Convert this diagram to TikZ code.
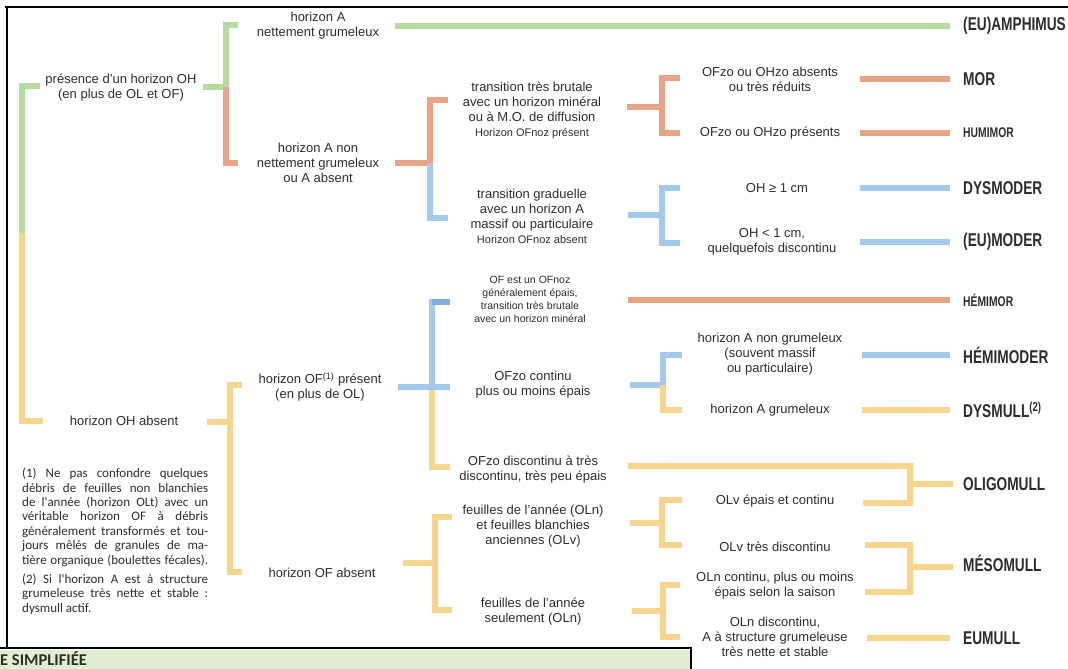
\documentclass[tikz,border=0pt]{standalone}
\usepackage{fontspec}
\setmainfont{Liberation Sans}
\newfontfamily\resfont{Liberation Sans}[FakeStretch=0.74]
\newfontfamily\notefont{Carlito}
\usepackage{xcolor}

\definecolor{humgreen}{RGB}{181,219,163}
\definecolor{humsalmon}{RGB}{233,163,133}
\definecolor{humblue}{RGB}{163,202,236}
\definecolor{humdarkblue}{RGB}{128,176,224}
\definecolor{humyellow}{RGB}{245,214,140}
\definecolor{humtext}{RGB}{45,45,45}
\definecolor{barfill}{RGB}{224,238,210}

% stem first, then the two halves of the bracket
\newcommand{\drawbracket}[4]{
    \draw[#4] (#1s) -- (#1m);
    \draw[#2] (#1t) -- (#1a) -- (#1m);
    \draw[#3] (#1m) -- (#1b) -- (#1u);
}

\tikzset{
    branch/.style={line width=6pt},
    greenline/.style={branch, draw=humgreen},
    salmonline/.style={branch, draw=humsalmon},
    blueline/.style={branch, draw=humblue},
    yellowline/.style={branch, draw=humyellow},
    crit/.style={align=center, inner sep=0pt, text=humtext, font=\fontsize{13}{15}\selectfont},
    critsmall/.style={crit, font=\fontsize{10.5}{13}\selectfont},
    humus/.style={anchor=west, inner sep=0pt, text=humtext, font=\resfont\bfseries\fontsize{18.5}{20}\selectfont},
    humussmall/.style={humus, font=\resfont\bfseries\fontsize{14}{16}\selectfont},
    note/.style={align=left, inner sep=0pt, text=humtext, font=\notefont\fontsize{13}{14.4}\selectfont},
    boxline/.style={line width=1.8pt, draw=black},
}

\begin{document}
\begin{tikzpicture}[x=1pt, y=-1pt]
    \useasboundingbox (0,0) rectangle (1068,669);

    % Frame and the header bar of the next table
    \fill[barfill] (0,650) rectangle (690,669);
    \draw[boxline] (5,7) -- (1068,7);
    \draw[boxline] (7,7) -- (7,648);
    \draw[boxline] (0,648) -- (691,648) -- (691,669);
    \node[anchor=west, inner sep=0pt, text=humtext, font=\notefont\bfseries\fontsize{16.5}{18}\selectfont] (bartitle) at (0,659) {E SIMPLIFIÉE};

    % Corner points of the brackets
    \foreach \name/\px/\py in {
        r0t/40/86, r0a/22/86, r0m/22/233, r0b/22/421, r0u/43/421,
        b1s/203/87, b1m/226/87, b1a/226/25, b1t/238/25, b1b/226/163, b1u/238/163,
        g1/395/26,
        b2s/395/163, b2m/430/163, b2a/430/100, b2t/448/100, b2b/430/218, b2u/448/218,
        b3s/627/107, b3m/662/107, b3a/662/78, b3t/680/78, b3b/662/133, b3u/680/133,
        b4s/628/215, b4m/662/215, b4a/662/188, b4t/680/188, b4b/662/243, b4u/680/243,
        e1/860/79, e2/860/133, e3/860/188, e4/860/242,
        b5s/207/422, b5m/230/422, b5a/230/385, b5t/242/385, b5b/230/572, b5u/242/572,
        b6s/398/387, b6m/432/387, b6c/450/387, b6a/432/302, b6t/450/302, b6b/432/467, b6u/450/467,
        e5/628/300,
        b7s/630/385, b7m/663/385, b7a/663/355, b7t/682/355, b7b/663/410, b7u/682/410,
        e6/862/355, e7/862/410,
        e8/628/466, m1a/910/466, m1b/910/503, e9/863/503, m1m/910/484,
        b8s/403/563, b8m/435/563, b8a/435/517, b8t/452/517, b8b/435/610, b8u/452/610,
        b9s/630/523, b9m/662/523, b9a/662/500, b9t/682/500, b9b/662/545, b9u/682/545,
        b10s/632/611, b10m/663/611, b10a/663/585, b10t/680/585, b10b/663/637, b10u/680/637,
        e10/865/545, m2a/910/545, m2b/910/592, e11/865/592, m2m/910/567,
        e12/867/638}{
        \coordinate (\name) at (\px,\py);
    }

    % Criteria
    \node[crit] (ohPresent) at (121,88) {présence d'un horizon OH\\(en plus de OL et OF)};
    \node[crit] (ohAbsent) at (124,421) {horizon OH absent};
    \node[crit] (aGrum) at (318,26) {horizon A\\nettement grumeleux};
    \node[crit] (aNonGrum) at (318,163) {horizon A non\\nettement grumeleux\\ou A absent};
    \node[crit] (transBrut) at (532,110) {transition très brutale\\avec un horizon minéral\\ou à M.O. de diffusion\\{\fontsize{11}{13}\selectfont Horizon OFnoz présent}};
    \node[crit] (transGrad) at (532,216) {transition graduelle\\avec un horizon A\\massif ou particulaire\\{\fontsize{11}{13}\selectfont Horizon OFnoz absent}};
    \node[crit] (ofzoAbs) at (770,79) {OFzo ou OHzo absents\\ou très réduits};
    \node[crit] (ofzoPres) at (770,133) {OFzo ou OHzo présents};
    \node[crit] (ohThick) at (777,188) {OH ≥ 1 cm};
    \node[crit] (ohThin) at (772,242) {OH < 1 cm,\\quelquefois discontinu};
    \node[crit] (ofPres) at (320,387) {horizon OF\textsuperscript{(1)} présent\\(en plus de OL)};
    \node[crit] (ofAbs) at (322,573) {horizon OF absent};
    \node[critsmall] (ofnoz) at (530,299) {OF est un OFnoz\\généralement épais,\\transition très brutale\\avec un horizon minéral};
    \node[crit] (ofzoCont) at (533,385) {OFzo continu\\plus ou moins épais};
    \node[crit] (ofzoDisc) at (533,470) {OFzo discontinu à très\\discontinu, très peu épais};
    \node[crit] (aMassif) at (770,354) {horizon A non grumeleux\\(souvent massif\\ou particulaire)};
    \node[crit] (aGrumeleux) at (770,410) {horizon A grumeleux};
    \node[crit] (olnOlv) at (533,526) {feuilles de l'année (OLn)\\et feuilles blanchies\\anciennes (OLv)};
    \node[crit] (olnSeul) at (533,612) {feuilles de l'année\\seulement (OLn)};
    \node[crit] (olvThick) at (775,501) {OLv épais et continu};
    \node[crit] (olvDisc) at (775,547) {OLv très discontinu};
    \node[crit] (olnCont) at (775,586) {OLn continu, plus ou moins\\épais selon la saison};
    \node[crit] (olnDisc) at (775,637) {OLn discontinu,\\A à structure grumeleuse\\très nette et stable};

    % Humus forms
    \node[humus] (amphimus) at (963,26) {(EU)AMPHIMUS};
    \node[humus] (mor) at (963,79) {MOR};
    \node[humussmall] (humimor) at (963,133) {HUMIMOR};
    \node[humus] (dysmoder) at (963,188) {DYSMODER};
    \node[humus] (eumoder) at (963,242) {(EU)MODER};
    \node[humussmall] (hemimor) at (963,300) {HÉMIMOR};
    \node[humus] (hemimoder) at (963,355) {HÉMIMODER};
    \node[humus] (dysmull) at (963,410) {DYSMULL\textsuperscript{(2)}};
    \node[humus] (oligomull) at (963,484) {OLIGOMULL};
    \node[humus] (mesomull) at (963,563) {MÉSOMULL};
    \node[humus] (eumull) at (963,638) {EUMULL};

    % Footnotes
    \node[note, anchor=north west] (notes) at (22,468) {%
        \makebox[186pt][s]{(1) Ne pas confondre quelques}\\
        \makebox[186pt][s]{débris de feuilles non blanchies}\\
        \makebox[186pt][s]{de l'année (horizon OLt) avec un}\\
        \makebox[186pt][s]{véritable horizon OF à débris}\\
        \makebox[186pt][s]{généralement transformés et tou-}\\
        \makebox[186pt][s]{jours mêlés de granules de ma-}\\
        \makebox[186pt][s]{tière organique (boulettes fécales).}\\[5pt]
        \makebox[186pt][s]{(2) Si l'horizon A est à structure}\\
        \makebox[186pt][s]{grumeleuse très nette et stable :}\\
        dysmull actif.};

    % Root bracket
    \draw[greenline] (r0t) -- (r0a) -- (r0m);
    \draw[yellowline] (r0m) -- (r0b) -- (r0u);

    % Brackets with an OH horizon
    \drawbracket{b1}{greenline}{salmonline}{greenline}
    \drawbracket{b2}{salmonline}{blueline}{salmonline}
    \drawbracket{b3}{salmonline}{salmonline}{salmonline}
    \drawbracket{b4}{blueline}{blueline}{blueline}

    % Brackets without an OH horizon
    \drawbracket{b5}{yellowline}{yellowline}{yellowline}
    \draw[blueline] (b6t) -- (b6a) -- (b6m);
    \draw[yellowline] (b6m) -- (b6b) -- (b6u);
    \draw[blueline] (b6s) -- (b6c);
    \draw[blueline, draw=humdarkblue] (b6a) -- (b6t);
    \drawbracket{b7}{blueline}{yellowline}{blueline}
    \drawbracket{b8}{yellowline}{yellowline}{yellowline}
    \drawbracket{b9}{yellowline}{yellowline}{yellowline}
    \drawbracket{b10}{yellowline}{yellowline}{yellowline}

    % Merging brackets
    \draw[yellowline] (e8) -- (m1a) -- (m1b) -- (e9);
    \draw[yellowline] (e10) -- (m2a) -- (m2b) -- (e11);

    % Lines to the humus forms
    \draw[greenline, shorten >=13pt] (g1) -- (g1 -| amphimus.west);
    \draw[salmonline, shorten >=13pt] (e1) -- (e1 -| mor.west);
    \draw[salmonline, shorten >=13pt] (e2) -- (e2 -| humimor.west);
    \draw[blueline, shorten >=13pt] (e3) -- (e3 -| dysmoder.west);
    \draw[blueline, shorten >=13pt] (e4) -- (e4 -| eumoder.west);
    \draw[salmonline, shorten >=13pt] (e5) -- (e5 -| hemimor.west);
    \draw[blueline, shorten >=13pt] (e6) -- (e6 -| hemimoder.west);
    \draw[yellowline, shorten >=13pt] (e7) -- (e7 -| dysmull.west);
    \draw[yellowline, shorten >=10pt] (m1m) -- (m1m -| oligomull.west);
    \draw[yellowline, shorten >=10pt] (m2m) -- (m2m -| mesomull.west);
    \draw[yellowline, shorten >=13pt] (e12) -- (e12 -| eumull.west);

\end{tikzpicture}
\end{document}
